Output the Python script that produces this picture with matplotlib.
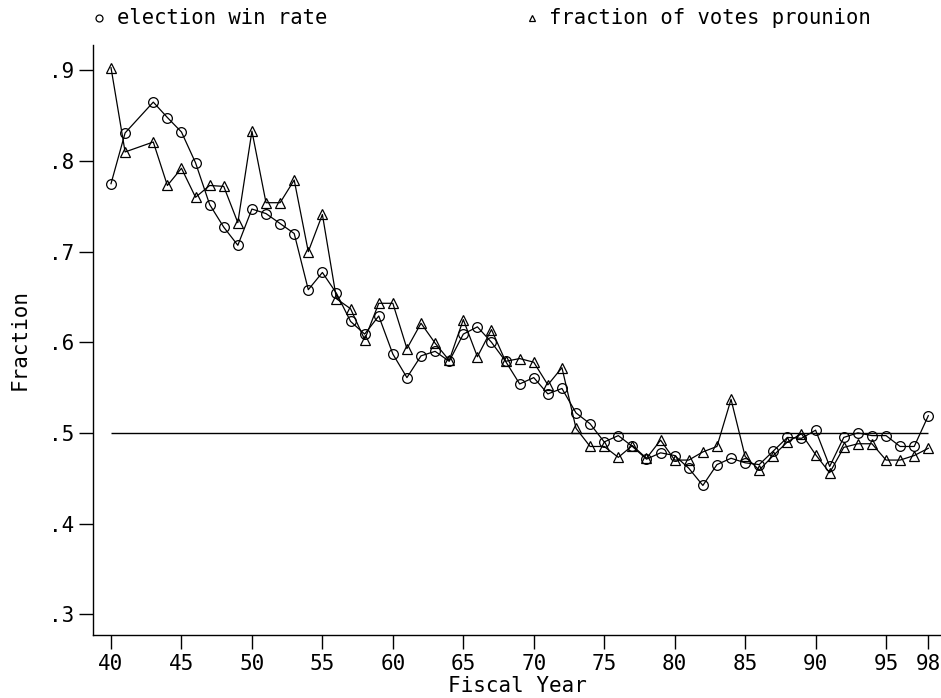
import matplotlib
matplotlib.use("Agg")
import matplotlib.pyplot as plt
from matplotlib.lines import Line2D
from matplotlib.ticker import FuncFormatter

plt.rcParams['font.family'] = ['DejaVu Sans Mono']

# fiscal years (no observation for 1942)
years = [40, 41, 43, 44, 45, 46, 47, 48, 49, 50, 51, 52, 53, 54, 55, 56, 57, 58,
         59, 60, 61, 62, 63, 64, 65, 66, 67, 68, 69, 70, 71, 72, 73, 74, 75, 76,
         77, 78, 79, 80, 81, 82, 83, 84, 85, 86, 87, 88, 89, 90, 91, 92, 93, 94,
         95, 96, 97, 98]

win_rate = [0.775, 0.831, 0.865, 0.848, 0.832, 0.798, 0.752, 0.727, 0.707, 0.747,
            0.742, 0.731, 0.720, 0.658, 0.677, 0.654, 0.623, 0.609, 0.629, 0.587,
            0.561, 0.585, 0.590, 0.579, 0.609, 0.617, 0.600, 0.579, 0.554, 0.561,
            0.543, 0.549, 0.522, 0.510, 0.490, 0.497, 0.485, 0.471, 0.478, 0.475,
            0.461, 0.442, 0.465, 0.472, 0.467, 0.465, 0.480, 0.495, 0.494, 0.503,
            0.463, 0.495, 0.500, 0.497, 0.497, 0.485, 0.485, 0.519]

vote_share = [0.903, 0.810, 0.821, 0.773, 0.792, 0.760, 0.773, 0.772, 0.732, 0.833,
              0.754, 0.754, 0.779, 0.700, 0.741, 0.648, 0.637, 0.603, 0.643, 0.643,
              0.593, 0.621, 0.599, 0.580, 0.625, 0.584, 0.614, 0.579, 0.582, 0.578,
              0.553, 0.572, 0.505, 0.485, 0.485, 0.473, 0.486, 0.472, 0.492, 0.470,
              0.470, 0.479, 0.485, 0.537, 0.474, 0.459, 0.475, 0.490, 0.499, 0.476,
              0.456, 0.484, 0.488, 0.488, 0.470, 0.470, 0.475, 0.483]

xticks = [40, 45, 50, 55, 60, 65, 70, 75, 80, 85, 90, 95, 98]
yticks = [0.3, 0.4, 0.5, 0.6, 0.7, 0.8, 0.9]

fig = plt.figure(figsize=(9.41, 6.98), dpi=100)
ax = fig.add_axes([0.0988, 0.0903, 0.9012, 0.8452])

ax.hlines(0.5, 40, 98, color='black', lw=1.0)
ax.plot(years, win_rate, color='black', lw=0.9, marker='o', ms=7,
        mfc='none', mec='black', mew=0.9)
ax.plot(years, vote_share, color='black', lw=0.9, marker='^', ms=7,
        mfc='none', mec='black', mew=0.9)

ax.set_xlim(38.72, 98.9)
ax.set_ylim(0.277, 0.928)
ax.set_xticks(xticks)
ax.set_yticks(yticks)
ax.yaxis.set_major_formatter(FuncFormatter(lambda v, p: ('%.1f' % v).lstrip('0')))
ax.tick_params(direction='out', length=10, width=1, labelsize=15, color='black')
for s in ['top', 'right']:
    ax.spines[s].set_visible(False)
for s in ['left', 'bottom']:
    ax.spines[s].set_linewidth(1)

ax.set_xlabel('Fiscal Year', fontsize=15, labelpad=2)
ax.set_ylabel('Fraction', fontsize=15, labelpad=14)

# key along the top of the figure
key_y = 1 - 18 / 698
fig.add_artist(Line2D([99 / 941], [key_y], transform=fig.transFigure,
                      marker='o', ms=5, mfc='none', mec='black', mew=0.9))
fig.text(117 / 941, key_y, 'election win rate', fontsize=14.8, va='center')
fig.add_artist(Line2D([532 / 941], [key_y], transform=fig.transFigure,
                      marker='^', ms=5, mfc='none', mec='black', mew=0.9))
fig.text(549 / 941, key_y, 'fraction of votes prounion', fontsize=14.8, va='center')

fig.savefig('out.png', dpi=100)
